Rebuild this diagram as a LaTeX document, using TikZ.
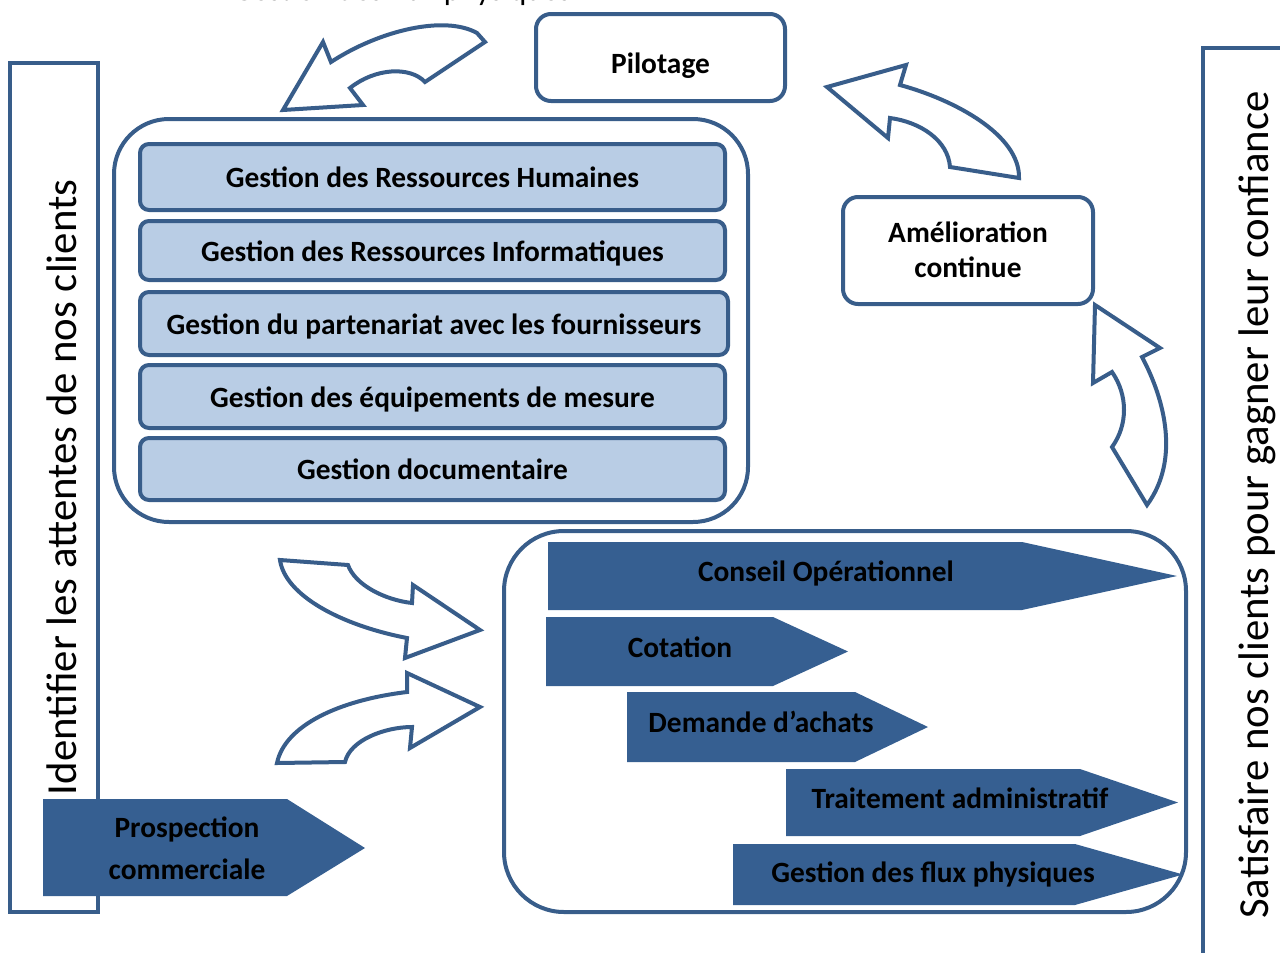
\documentclass[tikz,border=0pt]{standalone}
\usepackage{fontspec}
\setmainfont{Carlito}
\usepackage{tikz}
\definecolor{procblue}{RGB}{56,93,138}
\definecolor{procfill}{RGB}{54,95,145}
\definecolor{supportfill}{RGB}{185,205,229}
\newcommand{\boldbig}{\bfseries\fontsize{29.4}{35}\selectfont}

\begin{document}
\begin{tikzpicture}[x=1pt,y=-1pt]

%
% Styles
%
\tikzstyle{frame}     = [draw=procblue,line width=3.5pt,inner sep=0pt]
\tikzstyle{sidetext}  = [rotate=90,anchor=base,inner sep=0pt,font=\fontsize{42.8}{50}\selectfont]
\tikzstyle{container} = [draw=procblue,line width=4pt,rounded corners=55pt,inner sep=0pt]
\tikzstyle{support}   = [draw=procblue,fill=supportfill,line width=4pt,rounded corners=9pt,
                         inner sep=0pt,minimum width=585pt,text height=21pt,text depth=0pt,font=\boldbig]
\tikzstyle{pilot}     = [draw=procblue,fill=white,line width=4pt,rounded corners=15pt,
                         inner sep=0pt,align=center,text height=19pt,text depth=0pt,font=\boldbig]
\tikzstyle{flow}      = [fill=procfill]
\tikzstyle{flowtext}  = [inner sep=0pt,align=center,text height=19pt,text depth=0pt,font=\boldbig]
\tikzstyle{bentarrow} = [draw=procblue,fill=white,line width=4pt,line join=miter]

\useasboundingbox (0,0) rectangle (1280,953);

% side frames
\node[frame,minimum width=88pt,minimum height=849pt] (attentes) at (54,487.5) {};
\node[sidetext] (attentes-t) at (76,487.5) {Identifier les attentes de nos clients};
\node[frame,minimum width=120pt,minimum height=940pt] (confiance) at (1263,518) {};
\node[sidetext] (confiance-t) at (1268,505) {Satisfaire nos clients pour gagner leur confiance};

% prospection
\fill[flow] (43,799) -- (287,799) -- (365,848) -- (287,896) -- (43,896) -- cycle;
\node[flowtext,text height=61pt,font=\bfseries\fontsize{29.4}{42}\selectfont] (prospection) at (187,849)
  {Prospection\\commerciale};

% support processes
\node[container,minimum width=634pt,minimum height=403pt] (supports) at (431,320.5) {};
\node[support,minimum height=66pt] (rh)    at (432.5,177)   {Gestion des Ressources Humaines};
\node[support,minimum height=59pt] (ri)    at (432.5,250.5) {Gestion des Ressources Informatiques};
\node[support,minimum height=63pt,minimum width=588pt] (fourn) at (434,323.5)
  {Gestion du partenariat avec les fournisseurs};
\node[support,minimum height=63pt] (equip) at (432.5,396.5) {Gestion des équipements de mesure};
\node[support,minimum height=62pt] (doc)   at (432.5,469)   {Gestion documentaire};

% operational processes
\node[container,rounded corners=60pt,minimum width=682pt,minimum height=381pt] (operations) at (845,721.5) {};

\fill[flow] (548,542) -- (1022,542) -- (1177,576) -- (1022,610) -- (548,610) -- cycle;
\node[flowtext] (conseil) at (826,572) {Conseil Opérationnel};
\fill[flow] (546,617) -- (773,617) -- (848,651.5) -- (773,686) -- (546,686) -- cycle;
\node[flowtext] (cotation) at (680,648) {Cotation};
\fill[flow] (627,692) -- (855,692) -- (928,727) -- (855,762) -- (627,762) -- cycle;
\node[flowtext] (achats) at (761,723) {Demande d’achats};
\fill[flow] (786,769) -- (1080,769) -- (1178,802.5) -- (1080,836) -- (786,836) -- cycle;
\node[flowtext] (admin) at (960,799) {Traitement administratif};
\fill[flow] (733,844) -- (1075,844) -- (1183,874.5) -- (1075,905) -- (733,905) -- cycle;
\node[flowtext] (flux) at (933,873) {Gestion des flux physiques};

% management
\node[pilot,minimum width=249pt,minimum height=87pt,text height=31pt] (pilotage) at (660.5,57.5) {Pilotage};
\node[pilot,minimum width=250pt,minimum height=107pt,text height=53pt] (amelioration) at (968,250.5)
  {Amélioration\\continue};

% bent arrows
\draw[bentarrow] (283,110) -- (323,42) -- (331,62) .. controls (380,30) and (445,15) .. (477,33)
  -- (485,42) -- (425,82) .. controls (410,66) and (375,68) .. (350,88) -- (363,105) -- cycle;
\draw[bentarrow] (827,87) -- (906,65) -- (900,85) .. controls (955,100) and (1020,135) .. (1019,178)
  -- (950,167) .. controls (948,140) and (920,122) .. (890,118) -- (888,138) -- cycle;
\draw[bentarrow] (1095,305) -- (1160,348) -- (1142,357) .. controls (1165,400) and (1180,460) .. (1147,505)
  -- (1112,447) .. controls (1128,425) and (1128,395) .. (1112,372) -- (1093,383) -- cycle;
\draw[bentarrow] (280,560) -- (348,565) .. controls (355,585) and (385,600) .. (412,603)
  -- (413,585) -- (480,630) -- (405,658) -- (407,638) .. controls (340,625) and (285,595) .. (280,560) -- cycle;
\draw[bentarrow] (277,763) -- (345,762) .. controls (350,740) and (385,727) .. (412,727)
  -- (410,748) -- (480,707) -- (407,673) -- (407,692) .. controls (340,700) and (285,725) .. (277,763) -- cycle;

% cut title
\node[anchor=base,inner sep=0pt,font=\fontsize{31.5}{38}\selectfont] (titre) at (402,1) {Gestion des flux physiques};

\end{tikzpicture}
\end{document}
